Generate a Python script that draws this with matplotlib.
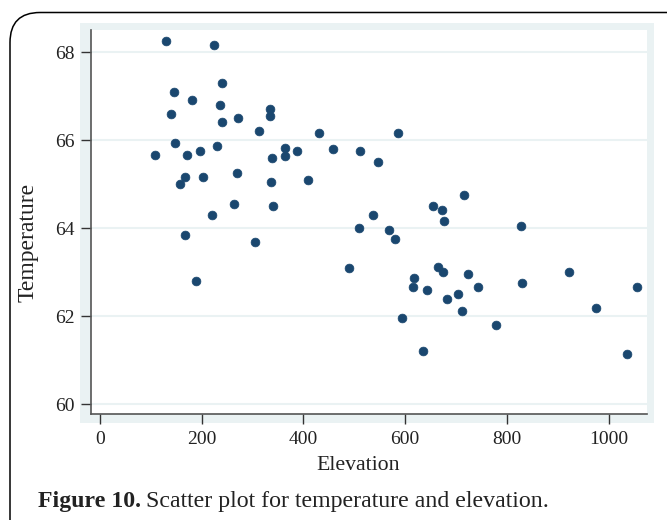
import matplotlib
matplotlib.use("Agg")
import matplotlib.pyplot as plt
from matplotlib.patches import Rectangle, FancyBboxPatch

elevation = [129, 224, 240, 145, 180, 236, 140, 334, 334, 240, 271, 312, 431,
             148, 231, 109, 172, 196, 338, 363, 363, 387, 459, 512, 546, 585,
             167, 157, 203, 270, 336, 408, 263, 341, 220, 536, 167, 189, 305,
             490, 509, 716, 655, 672, 676, 568, 581, 827, 618, 615, 643, 664,
             675, 724, 743, 703, 682, 830, 922, 1055, 594, 636, 778, 975, 1036, 712]
temperature = [68.26, 68.16, 67.31, 67.10, 66.91, 66.81, 66.60, 66.72, 66.55, 66.41,
               66.51, 66.22, 66.16, 65.95, 65.86, 65.67, 65.67, 65.75, 65.60, 65.82,
               65.65, 65.75, 65.81, 65.76, 65.51, 66.16, 65.16, 65.01, 65.16, 65.26,
               65.05, 65.10, 64.55, 64.51, 64.31, 64.31, 63.85, 62.81, 63.70, 63.10,
               64.01, 64.76, 64.51, 64.42, 64.17, 63.96, 63.76, 64.06, 62.86, 62.66,
               62.60, 63.11, 63.01, 62.96, 62.66, 62.51, 62.39, 62.76, 63.01, 62.66,
               61.96, 61.21, 61.81, 62.20, 61.15, 62.11]
x_ticks = [0, 200, 400, 600, 800, 1000]
y_ticks = [60, 62, 64, 66, 68]
x_label = "Elevation"
y_label = "Temperature"
caption_bold = "Figure 10."
caption_text = "Scatter plot for temperature and elevation."

W, H = 667, 520
fig = plt.figure(figsize=(W / 100, H / 100), dpi=100)
fig.patch.set_facecolor("white")
serif = ["Liberation Serif", "DejaVu Serif"]

def fx(px):
    return px / W

def fy(py):
    return 1 - py / H

# background axes in pixel coordinates
bg = fig.add_axes([0, 0, 1, 1], zorder=-5)
bg.set_xlim(0, W)
bg.set_ylim(H, 0)
bg.axis("off")
bg.add_patch(FancyBboxPatch((10, 12.5), 690, 540,
                            boxstyle="round,pad=0,rounding_size=30",
                            facecolor="none", edgecolor="black", linewidth=1.1))
bg.add_patch(Rectangle((79.5, 23), 574, 400, facecolor="#eaf2f3", edgecolor="none"))

ax = fig.add_axes([fx(91), fy(414), fx(647) - fx(91), fy(30) - fy(414)], zorder=1)
ax.set_facecolor("white")
ax.set_xlim(-17.7, 1075.5)
ax.set_ylim(59.78, 68.507)

ax.scatter(elevation, temperature, s=40, color="#1a476f", edgecolors="#1a476f",
           linewidths=0.5, zorder=3)

ax.set_xticks(x_ticks)
ax.set_yticks(y_ticks)
ax.set_xticklabels([str(v) for v in x_ticks], family=serif, fontsize=14, color="#222222")
ax.set_yticklabels([str(v) for v in y_ticks], family=serif, fontsize=14, color="#222222")
ax.tick_params(axis="both", length=7, width=1, color="#333333", pad=5)
ax.yaxis.grid(True, color="#eaf2f3", linewidth=1.5, zorder=1)
ax.set_axisbelow(True)

for side in ["top", "right"]:
    ax.spines[side].set_visible(False)
for side in ["left", "bottom"]:
    ax.spines[side].set_color("#555555")
    ax.spines[side].set_linewidth(1.2)

fig.text(fx(358), fy(466), x_label, family=serif, fontsize=15.7, ha="center", va="center",
         color="#222222")
fig.text(fx(28), fy(242), y_label, family=serif, fontsize=17, ha="center", va="center",
         rotation=90, color="#222222")

t1 = fig.text(fx(38), fy(501), caption_bold, family=serif, fontsize=17.2, fontweight="bold",
              ha="left", va="center", color="#222222")
fig.canvas.draw()
bb = t1.get_window_extent(renderer=fig.canvas.get_renderer())
fig.text((bb.x1 + 5) / W, fy(501), caption_text, family=serif,
         fontsize=17.2, ha="left", va="center", color="#222222")

fig.savefig("out.png", dpi=100, facecolor="white")
